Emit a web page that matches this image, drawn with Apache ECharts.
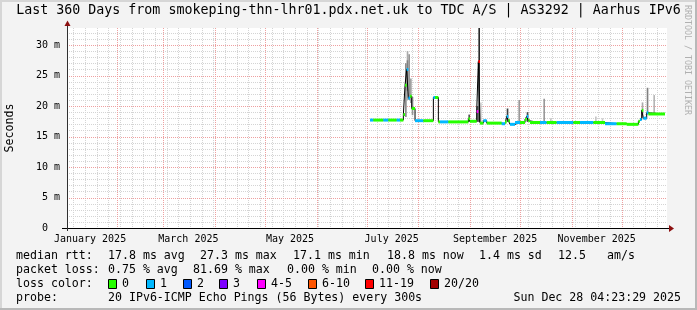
<!DOCTYPE html>
<html><head><meta charset="utf-8">
<script src="https://cdn.jsdelivr.net/npm/echarts@6/dist/echarts.min.js"></script>
<style>html,body{margin:0;padding:0;background:#f3f3f3}#c{width:697px;height:310px}</style>
</head><body><div id="c"></div>
<script>
// ---------- data ----------
const titleText = 'Last 360 Days from smokeping-thn-lhr01.pdx.net.uk to TDC A/S | AS3292 | Aarhus IPv6';
const startTime = '2025-01-02T04:23:29Z';
const endTime = '2025-12-28T04:23:29Z';

const monthLabels = ['January 2025', 'March 2025', 'May 2025', 'July 2025', 'September 2025', 'November 2025'];
const monthLabelDates = ['2025-01-16', '2025-03-16', '2025-05-16', '2025-07-16', '2025-09-16', '2025-11-16'];
const monthStarts = ['2025-02-01', '2025-03-01', '2025-04-01', '2025-05-01', '2025-06-01', '2025-07-01',
  '2025-08-01', '2025-09-01', '2025-10-01', '2025-11-01', '2025-12-01'];

const yTickValues = [0, 5, 10, 15, 20, 25, 30];
const yTickLabels = ['0  ', '5 m', '10 m', '15 m', '20 m', '25 m', '30 m'];

// median rtt (ms) per segment start, loss colour class per segment
const segDates = ['2025-07-03', '2025-07-05', '2025-07-11', '2025-07-14', '2025-07-19', '2025-07-21', '2025-07-23',
  '2025-07-24', '2025-07-25', '2025-07-26', '2025-07-27', '2025-07-28', '2025-07-30', '2025-08-04', '2025-08-10',
  '2025-08-11', '2025-08-13', '2025-08-14', '2025-08-19', '2025-08-31', '2025-09-01', '2025-09-05', '2025-09-06',
  '2025-09-07', '2025-09-09', '2025-09-11', '2025-09-20', '2025-09-22', '2025-09-23', '2025-09-24', '2025-09-25',
  '2025-09-28', '2025-10-01', '2025-10-04', '2025-10-05', '2025-10-06', '2025-10-07', '2025-10-13', '2025-10-17',
  '2025-10-23', '2025-11-02', '2025-11-06', '2025-11-14', '2025-11-21', '2025-11-28', '2025-12-04', '2025-12-11',
  '2025-12-12', '2025-12-13', '2025-12-14', '2025-12-16', '2025-12-17'];
const segEnd = '2025-12-27';
const segMedian = [17.7, 17.7, 17.7, 17.7, 17.7, 17.7, 18.6,
  23.4, 26.0, 21.3, 21.6, 19.6, 17.6, 17.6, 21.4,
  21.4, 17.4, 17.4, 17.4, 17.9, 17.5, 19.1, 27.3,
  17.2, 17.6, 17.2, 17.1, 17.4, 18.3, 17.6, 17.0,
  17.3, 17.3, 17.8, 18.3, 17.6, 17.3, 17.3, 17.3,
  17.3, 17.3, 17.3, 17.3, 17.1, 17.1, 17.0, 17.5,
  17.8, 19.3, 18.0, 18.9, 18.7];
const segLoss = [1, 0, 1, 0, 1, 0, 0,
  0, 1, 1, 0, 0, 1, 0, 1,
  0, 0, 1, 0, 0, 0, 4, 6,
  0, 1, 0, 1, 0, 1, 0, 1,
  1, 0, 0, 1, 0, 0, 1, 0,
  1, 0, 1, 0, 1, 0, 0, 0,
  1, 0, 1, 1, 0];

// smoke (ping spread) : day, low, high (ms), density 0..1
const smokeDates = ['2025-07-24', '2025-07-25', '2025-07-25', '2025-07-26', '2025-07-27', '2025-07-28', '2025-08-31',
  '2025-09-05', '2025-09-06', '2025-09-07', '2025-09-23', '2025-09-30', '2025-10-05', '2025-10-15', '2025-10-19',
  '2025-11-15', '2025-11-19', '2025-12-13', '2025-12-16', '2025-12-20'];
const smokeLow = [18.2, 21.0, 22.5, 21.0, 20.5, 18.5, 17.4, 17.4, 17.4, 17.4, 17.4, 17.4, 17.4, 17.4, 17.3,
  17.3, 17.2, 18.0, 18.6, 18.8];
const smokeHigh = [27.0, 29.0, 27.5, 28.5, 24.5, 21.5, 18.6, 20.0, 32.8, 20.6, 19.6, 21.0, 19.0, 21.2, 18.0,
  18.3, 18.0, 20.6, 23.0, 21.8];
const smokeDensity = [0.45, 0.3, 0.5, 0.4, 0.35, 0.4, 0.7, 0.65, 0.9, 0.15, 0.8, 0.38, 0.75, 0.38, 0.18,
  0.18, 0.15, 0.3, 0.5, 0.25];

const lossLabels = ['0', '1', '2', '3', '4-5', '6-10', '11-19', '20/20'];
const lossColors = ['#26ff00', '#00b8ff', '#0059ff', '#7e00ff', '#ff00ff', '#ff5500', '#ff0000', '#a10000'];

const rttStats = ['median rtt:', '17.8 ms avg', '27.3 ms max', '17.1 ms min', '18.8 ms now', '1.4 ms sd', '12.5', 'am/s'];
const lossStats = ['packet loss:', '0.75 % avg', '81.69 % max', '0.00 % min', '0.00 % now'];
const probeText = ['probe:', '20 IPv6-ICMP Echo Pings (56 Bytes) every 300s', 'Sun Dec 28 04:23:29 2025'];

// ---------- build ----------
const DAY = 86400000;
const toMs = s => new Date(s.length === 10 ? s + 'T00:00:00Z' : s).getTime();
const T0 = toMs(startTime), T1 = toMs(endTime);
const FONT = '"DejaVu Sans Mono", "Liberation Mono", monospace';

const weekStarts = [];
for (let t = toMs('2025-01-06'); t < T1; t += 7 * DAY) weekStarts.push(t);
const hMajor = [5, 10, 15, 20, 25, 30];
const hMinor = [];
for (let v = 1; v <= 32; v++) if (v % 5) hMinor.push(v);

const segData = segDates.map((d, i) => [toMs(d), toMs(i + 1 < segDates.length ? segDates[i + 1] : segEnd), segMedian[i], segLoss[i]]);
const stepData = segDates.map((d, i) => [toMs(d), segMedian[i]]);
stepData.push([toMs(segEnd), segMedian[segMedian.length - 1]]);
const smokeData = smokeDates.map((d, i) => [toMs(d), toMs(d) + DAY, smokeLow[i], smokeHigh[i], smokeDensity[i]]);

function grayOf(d) { const g = Math.round(235 - d * 215); return 'rgb(' + g + ',' + g + ',' + g + ')'; }

function vGrid(color) {
  return function (params, api) {
    const cs = params.coordSys;
    const x = Math.round(api.coord([api.value(0), 0])[0]) + 0.5;
    return { type: 'line', shape: { x1: x, y1: cs.y, x2: x, y2: cs.y + cs.height },
      style: { stroke: color, lineWidth: 1, lineDash: [1, 1] } };
  };
}
function hGrid(color) {
  return function (params, api) {
    const cs = params.coordSys;
    const y = Math.round(api.coord([T0, api.value(1)])[1]) + 0.5;
    return { type: 'line', shape: { x1: cs.x, y1: y, x2: cs.x + cs.width, y2: y },
      style: { stroke: color, lineWidth: 1, lineDash: [1, 1] } };
  };
}

const GL = 67, GT = 28, GW = 600, GH = 200;
const chart = echarts.init(document.getElementById('c'), null, { renderer: 'canvas', width: 697, height: 310 });

const graphics = [];
// frame
graphics.push({ type: 'rect', shape: { x: 0, y: 0, width: 697, height: 2 }, style: { fill: '#d6d6d6' }, silent: true });
graphics.push({ type: 'rect', shape: { x: 0, y: 0, width: 2, height: 310 }, style: { fill: '#d6d6d6' }, silent: true });
graphics.push({ type: 'rect', shape: { x: 695, y: 0, width: 2, height: 310 }, style: { fill: '#b8b8b8' }, silent: true });
graphics.push({ type: 'rect', shape: { x: 0, y: 308, width: 697, height: 2 }, style: { fill: '#b8b8b8' }, silent: true });
// title
graphics.push({ type: 'text', x: 348.5, y: 11, style: { text: titleText, font: '13.3px ' + FONT, fill: '#000', textAlign: 'center', textVerticalAlign: 'middle' } });
// watermark
graphics.push({ type: 'text', x: 687, y: 5, rotation: -Math.PI / 2, style: { text: 'RRDTOOL / TOBI OETIKER', font: '8.3px ' + FONT, fill: '#b0b0b0', textAlign: 'left', textVerticalAlign: 'middle' } });
// y name
graphics.push({ type: 'text', x: 10, y: 128, rotation: Math.PI / 2, style: { text: 'Seconds', font: '11.6px ' + FONT, fill: '#000', textAlign: 'center', textVerticalAlign: 'middle' } });
// axes lines + arrows
graphics.push({ type: 'line', z: 50, shape: { x1: 62, y1: GT + GH + 0.5, x2: 670, y2: GT + GH + 0.5 }, style: { stroke: '#000', lineWidth: 1 } });
graphics.push({ type: 'line', z: 50, shape: { x1: GL + 0.5, y1: GT + GH + 3, x2: GL + 0.5, y2: 23 }, style: { stroke: '#303030', lineWidth: 1 } });
graphics.push({ type: 'polygon', z: 51, shape: { points: [[669, 225], [674, 228.5], [669, 232]] }, style: { fill: '#8c1010' } });
graphics.push({ type: 'polygon', z: 51, shape: { points: [[64.5, 26], [67.5, 20.5], [70.5, 26]] }, style: { fill: '#8c1010' } });

// legend
const lf = '11.6px ' + FONT;
const L1 = 256, L2 = 270, L3 = 284, L4 = 298;
const rttX = [16, 108, 200, 293, 387, 479, 558, 607];
rttStats.forEach((s, i) => graphics.push({ type: 'text', x: rttX[i], y: L1, style: { text: s, font: lf, fill: '#000', textVerticalAlign: 'middle' } }));
const lossX = [16, 108, 193, 287, 372];
lossStats.forEach((s, i) => graphics.push({ type: 'text', x: lossX[i], y: L2, style: { text: s, font: lf, fill: '#000', textVerticalAlign: 'middle' } }));
graphics.push({ type: 'text', x: 16, y: L3, style: { text: 'loss color:', font: lf, fill: '#000', textVerticalAlign: 'middle' } });
const swX = [108, 146, 183, 219, 257, 308, 365, 430];
lossLabels.forEach((s, i) => {
  graphics.push({ type: 'rect', shape: { x: swX[i] + 0.5, y: L3 - 4.5, width: 8, height: 9 }, style: { fill: lossColors[i], stroke: '#000', lineWidth: 1 } });
  graphics.push({ type: 'text', x: swX[i] + 14, y: L3, style: { text: s, font: lf, fill: '#000', textVerticalAlign: 'middle' } });
});
graphics.push({ type: 'text', x: 16, y: L4, style: { text: probeText[0], font: lf, fill: '#000', textVerticalAlign: 'middle' } });
graphics.push({ type: 'text', x: 108, y: L4, style: { text: probeText[1], font: lf, fill: '#000', textVerticalAlign: 'middle' } });
graphics.push({ type: 'text', x: 681, y: L4, style: { text: probeText[2], font: lf, fill: '#000', textAlign: 'right', textVerticalAlign: 'middle' } });

const option = {
  animation: false,
  backgroundColor: '#f3f3f3',
  grid: { left: GL, top: GT, width: GW, height: GH, show: true, backgroundColor: '#ffffff', borderWidth: 0 },
  xAxis: [{
    type: 'value', min: T0, max: T1, gridIndex: 0,
    axisLine: { show: false }, axisTick: { show: false }, splitLine: { show: false },
    axisLabel: { show: true, margin: 6, fontFamily: FONT, fontSize: 10, color: '#000',
      customValues: monthLabelDates.map(toMs),
      formatter: v => { const i = monthLabelDates.map(toMs).indexOf(v); return i >= 0 ? monthLabels[i] : ''; } }
  }],
  yAxis: [{
    type: 'value', min: 0, max: 32.8, gridIndex: 0,
    axisLine: { show: false }, axisTick: { show: false }, splitLine: { show: false },
    axisLabel: { show: true, margin: 7, fontFamily: FONT, fontSize: 10, color: '#000',
      customValues: yTickValues,
      formatter: v => { const i = yTickValues.indexOf(v); return i >= 0 ? yTickLabels[i] : ''; } }
  }],
  graphic: graphics,
  series: [
    { type: 'custom', silent: true, z: 1, renderItem: hGrid('#d4d4d4'), data: hMinor.map(v => [T0, v]), encode: { x: 0, y: 1 } },
    { type: 'custom', silent: true, z: 1, renderItem: vGrid('#d4d4d4'), data: weekStarts.map(t => [t, 0]), encode: { x: 0, y: 1 } },
    { type: 'custom', silent: true, z: 1, renderItem: hGrid('#eea0a0'), data: hMajor.map(v => [T0, v]), encode: { x: 0, y: 1 } },
    { type: 'custom', silent: true, z: 1, renderItem: vGrid('#eea0a0'), data: monthStarts.map(d => [toMs(d), 0]), encode: { x: 0, y: 1 } },
    { type: 'custom', silent: true, z: 2, clip: true,
      renderItem: (params, api) => {
        const a = api.coord([api.value(0), api.value(3)]);
        const b = api.coord([api.value(1), api.value(2)]);
        return { type: 'rect', shape: { x: a[0], y: a[1], width: Math.max(1, b[0] - a[0]), height: b[1] - a[1] }, style: { fill: grayOf(api.value(4)) } };
      },
      data: smokeData, encode: { x: [0, 1], y: [2, 3] } },
    { type: 'line', silent: true, z: 3, step: 'end', symbol: 'none', data: stepData,
      lineStyle: { color: '#000', width: 1 } },
    { type: 'custom', silent: true, z: 4,
      renderItem: (params, api) => {
        const a = api.coord([api.value(0), api.value(2)]);
        const b = api.coord([api.value(1), api.value(2)]);
        return { type: 'rect', shape: { x: a[0], y: a[1] - 1.5, width: b[0] - a[0], height: 3 }, style: { fill: lossColors[api.value(3)] } };
      },
      data: segData, encode: { x: [0, 1], y: 2 } }
  ]
};
chart.setOption(option);
</script>
</body></html>
